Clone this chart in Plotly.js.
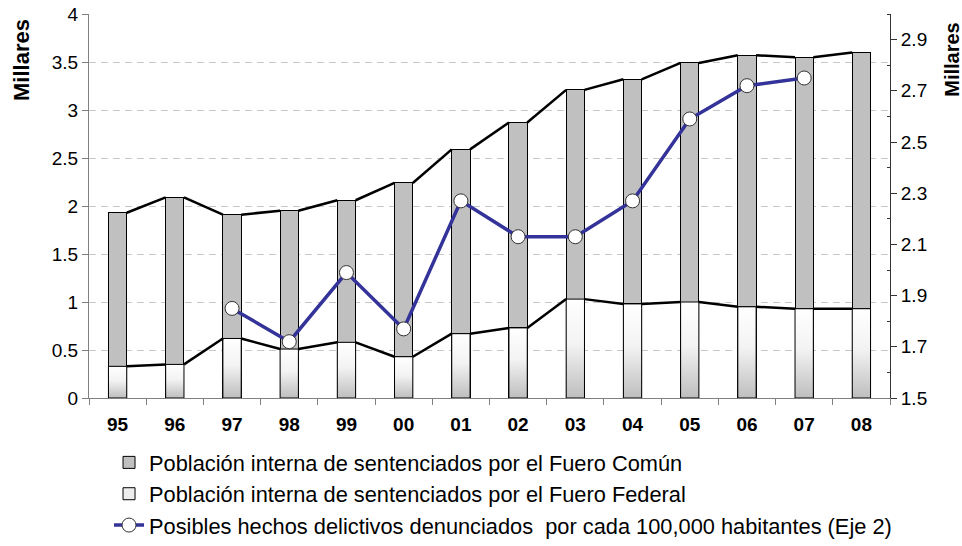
<!DOCTYPE html>
<html>
<head>
<meta charset="utf-8">
<script src="https://cdn.plot.ly/plotly-3.0.1.min.js"></script>
<style>html,body{margin:0;padding:0;background:#fff;}#chart{width:962px;height:546px;}</style>
</head>
<body>
<div id="chart"></div>
<script>
// ---- data ----
const years = ['95','96','97','98','99','00','01','02','03','04','05','06','07','08'];
const fueroFederal = [0.33, 0.35, 0.62, 0.51, 0.58, 0.43, 0.67, 0.73, 1.03, 0.98, 1.00, 0.95, 0.93, 0.93];
const fueroComun   = [1.60, 1.74, 1.29, 1.44, 1.48, 1.81, 1.92, 2.14, 2.18, 2.34, 2.49, 2.62, 2.62, 2.67];
const delitos      = [null, null, 1.85, 1.72, 1.99, 1.77, 2.27, 2.13, 2.13, 2.27, 2.59, 2.72, 2.75, null];
const nameComun   = 'Población interna de sentenciados por el Fuero Común';
const nameFederal = 'Población interna de sentenciados por el Fuero Federal';
const nameDelitos = 'Posibles hechos delictivos denunciados  por cada 100,000 habitantes (Eje 2)';

// ---- derived ----
const xIdx = years.map((_, i) => i);
const totals = fueroFederal.map((v, i) => v + fueroComun[i]);
const BW = 0.32;
const FONT = 'Liberation Sans, Arial, sans-serif';

const traces = [];
traces.push({
  type: 'bar', x: xIdx, y: fueroFederal, name: nameFederal, width: BW,
  marker: {color: '#ededed', line: {color: '#000', width: 1}}, hoverinfo: 'skip', legendrank: 2
});
traces.push({
  type: 'bar', x: xIdx, y: fueroComun, name: nameComun, width: BW,
  marker: {color: '#c0c0c0', line: {color: '#000', width: 1}}, hoverinfo: 'skip', legendrank: 1
});
// gradient fill for federal bars
xIdx.forEach(i => {
  traces.push({
    type: 'scatter', mode: 'lines', showlegend: false, hoverinfo: 'skip',
    x: [i - BW/2, i + BW/2, i + BW/2, i - BW/2, i - BW/2],
    y: [0, 0, fueroFederal[i], fueroFederal[i], 0],
    fill: 'toself',
    fillgradient: {type: 'vertical', colorscale: [[0, '#bebebe'], [0.55, '#f3f3f3'], [1, '#ffffff']]},
    line: {color: '#000', width: 1}
  });
});
// series lines connecting bars
function seriesLine(vals) {
  const xs = [], ys = [];
  for (let i = 0; i < vals.length - 1; i++) {
    xs.push(i + BW/2, i + 1 - BW/2, null);
    ys.push(vals[i], vals[i+1], null);
  }
  return {type: 'scatter', mode: 'lines', x: xs, y: ys, showlegend: false, hoverinfo: 'skip',
          line: {color: '#000', width: 2.5}};
}
traces.push(seriesLine(fueroFederal));
traces.push(seriesLine(totals));
traces.push({
  type: 'scatter', mode: 'lines+markers', x: xIdx, y: delitos, yaxis: 'y2', name: nameDelitos,
  connectgaps: false, line: {color: '#333399', width: 3.5},
  marker: {symbol: 'circle', size: 14, color: '#fff', line: {color: '#333', width: 1}},
  hoverinfo: 'skip', legendrank: 3
});

const layout = {
  width: 962, height: 546,
  margin: {l: 89, r: 72, t: 14, b: 148, pad: 0, autoexpand: false},
  paper_bgcolor: '#fff', plot_bgcolor: '#fff',
  barmode: 'stack', bargap: 0,
  showlegend: true,
  font: {family: FONT, color: '#000'},
  xaxis: {
    range: [-0.5, 13.5], tickmode: 'array', tickvals: xIdx, ticktext: years,
    ticks: '', showgrid: false, zeroline: false,
    showline: true, linecolor: '#808080', linewidth: 1,
    tickfont: {family: FONT, size: 19, color: '#000', weight: 'bold'},
    ticklabelstandoff: 9,
    minor: {tickmode: 'linear', tick0: -0.5, dtick: 1, ticks: 'outside', ticklen: 6, tickcolor: '#808080', showgrid: false}
  },
  yaxis: {
    range: [0, 4], tickmode: 'linear', tick0: 0, dtick: 0.5,
    ticks: 'outside', ticklen: 6, tickcolor: '#808080',
    showline: true, linecolor: '#808080', linewidth: 1, zeroline: false,
    showgrid: true, gridcolor: '#c8c8c8', griddash: '7px,5px', gridwidth: 1,
    tickfont: {family: FONT, size: 19, color: '#000'}
  },
  yaxis2: {
    overlaying: 'y', side: 'right', range: [1.5, 3.0], tickmode: 'linear', tick0: 1.5, dtick: 0.2,
    ticks: 'outside', ticklen: 6, tickcolor: '#333',
    showline: true, linecolor: '#333', linewidth: 1, zeroline: false, showgrid: false,
    tickfont: {family: FONT, size: 19, color: '#000'},
    minor: {tickmode: 'linear', tick0: 1.6, dtick: 0.2, ticks: 'inside', ticklen: 3, tickcolor: '#333'}
  },
  legend: {
    x: 0.025, xanchor: 'left', yref: 'container', y: 0.191, yanchor: 'top', orientation: 'v',
    font: {family: FONT, size: 21.8, color: '#000'}, bgcolor: 'rgba(0,0,0,0)', borderwidth: 0,
    traceorder: 'normal', itemclick: false, itemdoubleclick: false
  },
  annotations: [
    {text: '<b>Millares</b>', textangle: -90, xref: 'paper', yref: 'paper', x: -0.085, y: 0.88,
     xanchor: 'center', yanchor: 'middle', showarrow: false, font: {family: FONT, size: 22, color: '#000'}},
    {text: '<b>Millares</b>', textangle: -90, xref: 'paper', yref: 'paper', x: 1.077, y: 0.88,
     xanchor: 'center', yanchor: 'middle', showarrow: false, font: {family: FONT, size: 20, color: '#000'}}
  ]
};

Plotly.newPlot('chart', traces, layout, {staticPlot: true, displayModeBar: false});
</script>
</body>
</html>
